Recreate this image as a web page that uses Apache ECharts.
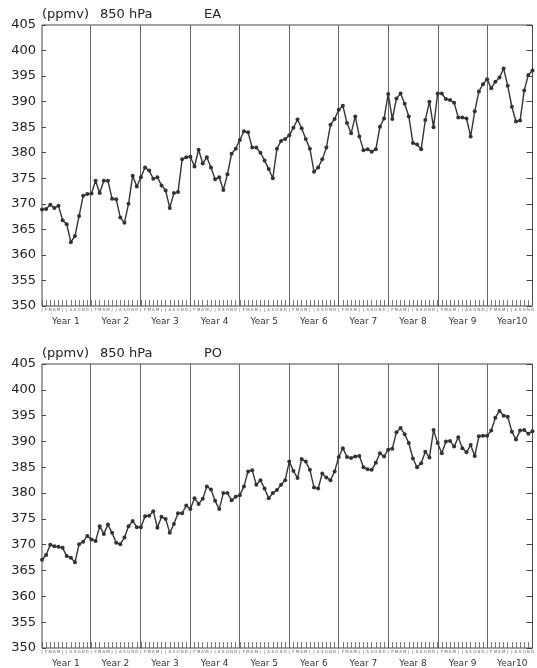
<!DOCTYPE html>
<html>
<head>
<meta charset="utf-8">
<script src="https://cdn.jsdelivr.net/npm/echarts@6/dist/echarts.min.js"></script>
<style>
  html, body { margin: 0; padding: 0; background: #fff; }
  #chart { width: 537px; height: 668px; }
</style>
</head>
<body>
<div id="chart"></div>
<script>
// month letters under the ticks, one label per year block
var monthLetters = ["J", "F", "M", "A", "M", "J", "J", "A", "S", "O", "N", "D"];
var yearLabels = ["Year 1", "Year 2", "Year 3", "Year 4", "Year 5", "Year 6", "Year 7", "Year 8", "Year 9", "Year10"];

// monthly CO2 at 850 hPa (ppmv)
var eaValues = [
  368.9, 369.0, 369.8, 369.2, 369.6, 366.8, 366.0, 362.5, 363.7, 367.6, 371.6, 371.9,
  372.0, 374.5, 372.1, 374.5, 374.5, 371.0, 370.9, 367.3, 366.3, 370.0, 375.5, 373.4,
  375.2, 377.1, 376.5, 374.9, 375.2, 373.6, 372.6, 369.2, 372.1, 372.3, 378.7, 379.1,
  379.2, 377.3, 380.6, 377.9, 379.1, 377.1, 374.8, 375.2, 372.7, 375.8, 379.8, 380.8,
  382.5, 384.2, 384.0, 381.0, 381.0, 380.0, 378.5, 376.8, 375.0, 380.8, 382.3, 382.7,
  383.4, 384.9, 386.5, 384.8, 382.7, 380.8, 376.3, 377.1, 378.7, 381.0, 385.5, 386.6,
  388.4, 389.2, 385.8, 383.8, 387.1, 383.2, 380.5, 380.7, 380.2, 380.7, 385.1, 386.7,
  391.5, 386.6, 390.6, 391.6, 389.6, 387.1, 381.9, 381.6, 380.7, 386.4, 390.0, 385.0,
  391.6, 391.6, 390.5, 390.3, 389.8, 386.9, 386.9, 386.7, 383.2, 388.1, 392.0, 393.4,
  394.4, 392.6, 393.9, 394.7, 396.5, 393.1, 389.0, 386.1, 386.3, 392.2, 395.2, 396.1
];
var poValues = [
  367.1, 368.0, 370.0, 369.7, 369.6, 369.4, 367.8, 367.5, 366.6, 370.1, 370.6, 371.7,
  371.0, 370.7, 373.6, 372.1, 373.9, 372.3, 370.4, 370.1, 371.4, 373.6, 374.6, 373.4,
  373.4, 375.5, 375.6, 376.5, 373.3, 375.4, 375.0, 372.3, 374.0, 376.1, 376.1, 377.6,
  376.9, 379.0, 377.9, 378.9, 381.3, 380.7, 378.5, 376.9, 380.0, 380.0, 378.6, 379.3,
  379.6, 381.3, 384.2, 384.4, 381.6, 382.5, 380.9, 379.0, 380.0, 380.6, 381.6, 382.5,
  386.1, 384.3, 382.9, 386.6, 386.1, 384.5, 381.1, 380.9, 383.8, 383.0, 382.5, 384.2,
  387.0, 388.7, 387.0, 386.8, 387.1, 387.2, 385.0, 384.6, 384.5, 385.9, 387.7, 387.1,
  388.4, 388.6, 391.8, 392.6, 391.4, 389.7, 386.7, 385.0, 385.8, 388.0, 386.9, 392.2,
  389.7, 387.7, 390.0, 390.1, 389.0, 390.8, 388.7, 387.9, 389.3, 387.2, 391.0, 391.1,
  391.1, 392.1, 394.6, 395.9, 395.0, 394.8, 391.9, 390.4, 392.1, 392.2, 391.5, 392.0
];

var unitText = "(ppmv)";
var levelText = "850 hPa";
var regionNames = ["EA", "PO"];
var yMin = 350, yMax = 405, yStep = 5;

var font = "DejaVu Sans";
var panels = [
  { top: 25, height: 281, titleTop: 8, values: eaValues, name: regionNames[0] },
  { top: 364, height: 284, titleTop: 347, values: poValues, name: regionNames[1] }
];

var option = {
  animation: false,
  backgroundColor: "#fff",
  title: [],
  grid: [],
  xAxis: [],
  yAxis: [],
  series: []
};

panels.forEach(function (p, k) {
  var g = k * 2;
  var titleStyle = { fontFamily: font, fontSize: 13, fontWeight: "normal", color: "#222" };
  option.title.push(
    { text: unitText, left: 42, top: p.titleTop, padding: 0, textStyle: titleStyle },
    { text: levelText, left: 100, top: p.titleTop, padding: 0, textStyle: titleStyle },
    { text: p.name, left: 204, top: p.titleTop, padding: 0, textStyle: titleStyle }
  );

  // data frame, and a slightly wider grid that carries the year blocks
  option.grid.push(
    { left: 42, width: 499, top: p.top, height: p.height, show: true, borderColor: "#444", borderWidth: 1, backgroundColor: "transparent" },
    { left: 41, width: 503, top: p.top, height: p.height }
  );

  option.xAxis.push(
    {
      type: "value", gridIndex: g, min: 0, max: 119, interval: 1,
      axisLine: { show: false },
      splitLine: { show: false },
      axisTick: { inside: true, length: 6, lineStyle: { color: "#555", width: 0.8 } },
      axisLabel: {
        fontSize: 4, margin: 2, color: "#666", fontFamily: font,
        formatter: function (v) { return monthLetters[Math.round(v) % 12]; }
      }
    },
    {
      type: "category", gridIndex: g + 1, data: yearLabels, boundaryGap: true,
      axisLine: { show: false },
      axisTick: { show: false },
      axisLabel: { fontSize: 9, color: "#333", fontFamily: font, margin: 11, interval: 0 },
      splitLine: {
        show: true,
        interval: function (i) { return i > 0; },
        lineStyle: { color: "#666", width: 1 }
      }
    }
  );

  option.yAxis.push(
    {
      type: "value", gridIndex: g, position: "left", min: yMin, max: yMax, interval: yStep,
      axisLine: { show: false },
      splitLine: { show: false },
      axisTick: { inside: true, length: 4, lineStyle: { color: "#444" } },
      axisLabel: { fontSize: 13, color: "#222", fontFamily: font, margin: 6 }
    },
    {
      type: "value", gridIndex: g, position: "right", min: yMin, max: yMax, interval: yStep,
      axisLine: { show: false },
      splitLine: { show: false },
      axisTick: { inside: true, length: 6, lineStyle: { color: "#444" } },
      axisLabel: { show: false }
    },
    { type: "value", gridIndex: g + 1, min: yMin, max: yMax, show: false }
  );

  option.series.push({
    type: "line",
    xAxisIndex: g,
    yAxisIndex: k * 3,
    data: p.values.map(function (v, i) { return [i, v]; }),
    symbol: "circle",
    symbolSize: 4,
    lineStyle: { color: "#333", width: 1.4 },
    itemStyle: { color: "#333" },
    z: 5
  });
});

var chartDom = document.getElementById("chart");
var myChart = echarts.init(chartDom);
myChart.setOption(option);
</script>
</body>
</html>
